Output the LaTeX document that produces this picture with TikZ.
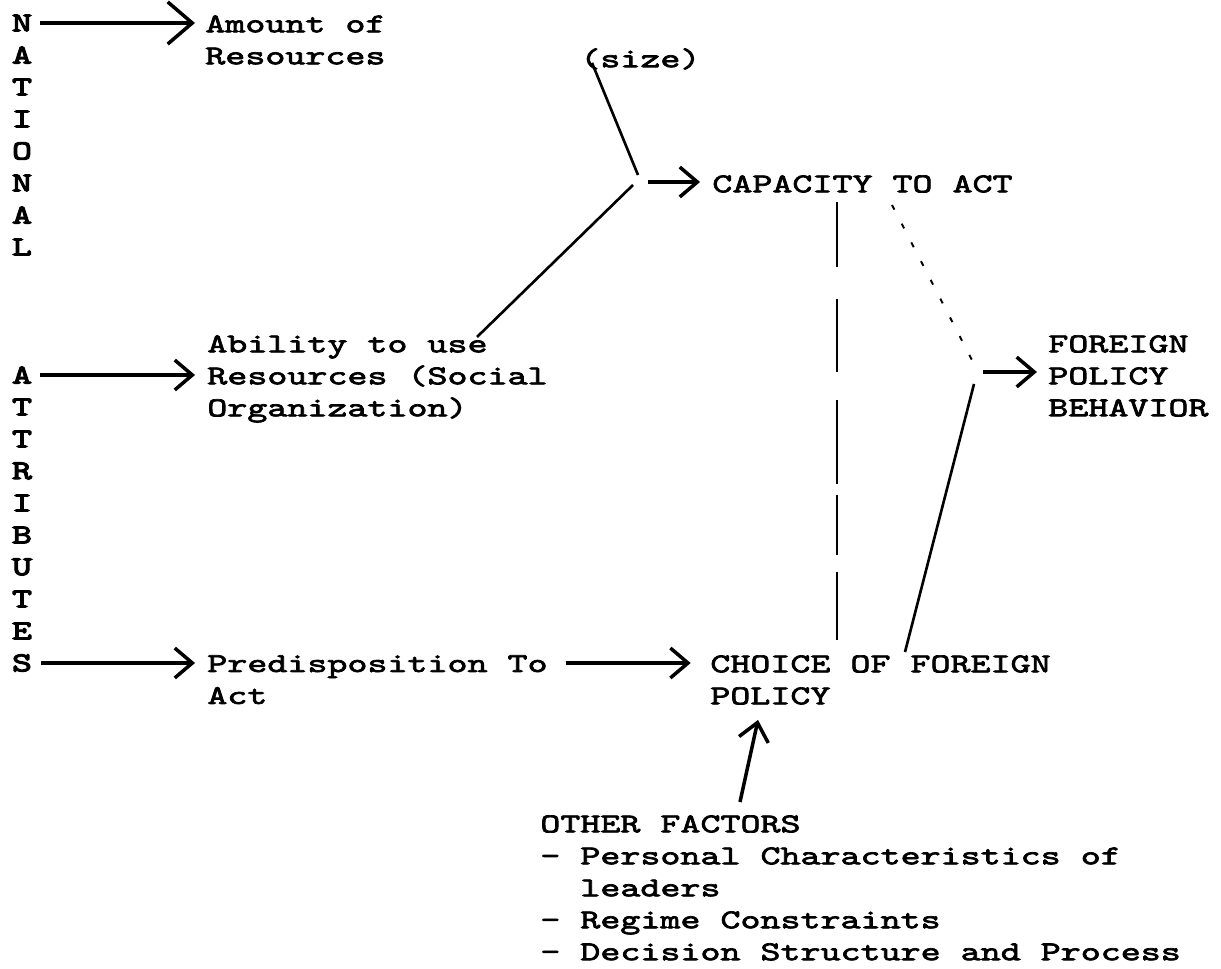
\documentclass[tikz,border=0pt]{standalone}
\usepackage{fontspec}
\newfontfamily\typewriter{lmmono10-regular}[Extension=.otf, FakeStretch=1.4, FakeBold=2.6]
\newfontfamily\typewriterbf{lmmono10-regular}[Extension=.otf, FakeStretch=1.4, FakeBold=4.2]
\usepackage{tikz}
\usetikzlibrary{positioning,arrows.meta,calc}
\tikzset{
	txt/.style = {
		inner sep=0, align=left, anchor=north west, font=\typewriter\fontsize{15.5}{18.2}\selectfont
	}
}
\tikzset{
	letter/.style = {
		inner sep=0, font=\typewriterbf\fontsize{15.5}{18.2}\selectfont
	}
}
\tikzset{
	flow/.style = {
		line width=2pt, -{Straight Barb[length=10pt, width=17pt, line width=2pt]}
	}
}
\tikzset{
	bigflow/.style = {
		flow, -{Straight Barb[length=14pt, width=24pt, line width=2pt]}
	}
}
\tikzset{
	link/.style = {
		line width=1.5pt
	}
}
\tikzset{
	faint/.style = {
		line width=1.1pt, dash pattern=on 3pt off 9pt
	}
}

\begin{document}
\begin{tikzpicture}[x=0.02cm, y=-0.02cm]
	\useasboundingbox (0,0) rectangle (1221,969);

	% letters down the left side
	\foreach \l [count=\i] in {N,A,T,I,O,N,A,L}
		\node[letter] (nat\i) at (22,{23+32*(\i-1)}) {\l};
	\foreach \l [count=\i] in {A,T,T,R,I,B,U,T,E,S}
		\node[letter] (attr\i) at (22,{375+32*(\i-1)}) {\l};

	\node[txt] (amount) at (205,15) {Amount of\\Resources};
	\node[txt] (size) at (580,48) {(size)};
	\node[txt] (capacity) at (712,175) {CAPACITY TO ACT};
	\node[txt] (ability) at (207,335) {Ability to use\\Resources (Social\\Organization)};
	\node[txt] (behavior) at (1048,335) {FOREIGN\\POLICY\\BEHAVIOR};
	\node[txt] (predisp) at (207,655) {Predisposition To\\Act};
	\node[txt] (choice) at (710,655) {CHOICE OF FOREIGN\\POLICY};
	\node[txt] (other) at (540,815) {OTHER FACTORS\\- Personal Characteristics of\\\phantom{- }leaders\\- Regime Constraints\\- Decision Structure and Process};

	\coordinate (capjoin) at (640,182);
	\coordinate (bjoin) at (977,372);
	\coordinate (captop) at ($(capacity.south west)+(125,9)$);

	\draw[bigflow, shorten <=4.5pt, shorten >=5.7pt] (nat1.east) -- (nat1.east -| amount.west);
	\draw[flow, shorten <=4.5pt, shorten >=6.8pt] (attr1.east) -- (attr1.east -| ability.west);
	\draw[flow, shorten <=5pt, shorten >=6.8pt] (attr10.east) -- (attr10.east -| predisp.west);
	\draw[flow, shorten <=10pt, shorten >=11pt] (attr10.east -| predisp.east) -- (attr10.east -| choice.west);

	\draw[link] ($(size.south west)+(12,-7)$) -- ($(capjoin)+(-2,-7)$);
	\draw[link] ($(ability.north west)+(270,2)$) -- ($(capjoin)+(-7,3)$);
	\draw[flow, shorten <=4.5pt, shorten >=6.8pt] (capjoin) -- (capjoin -| capacity.west);

	\draw[link, dash pattern=on 37pt off 18pt on 41.5pt off 16pt on 47.8pt off 6.3pt on 34.1pt off 9.7pt on 40pt off 20pt, shorten >=8.5pt] (captop) -- (captop |- choice.north);
	\draw[faint] ($(capacity.south west)+(180,12)$) -- ($(bjoin)+(-3,-8)$);
	\draw[link] ($(choice.north west)+(195,-3)$) -- ($(bjoin)+(-3,12)$);
	\draw[flow, shorten <=3.4pt, shorten >=6.3pt] (bjoin) -- (bjoin -| behavior.west);

	\draw[flow] ($(other.north west)+(200,-13)$) -- ($(choice.south west)+(48,15)$);
\end{tikzpicture}
\end{document}
